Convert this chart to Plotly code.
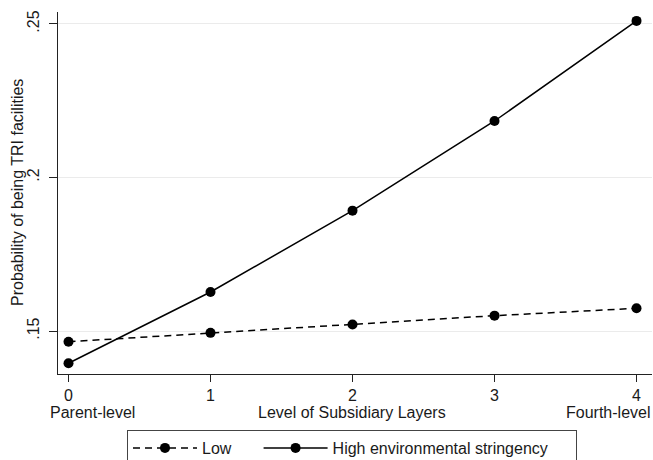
import plotly.graph_objects as go

levels = [0, 1, 2, 3, 4]
low_values = [0.1465, 0.1494, 0.1521, 0.1550, 0.1574]
high_values = [0.1395, 0.1627, 0.1892, 0.2184, 0.2510]
x_tick_vals = [0, 1, 2, 3, 4]
x_tick_text = ["0", "1", "2", "3", "4"]
y_tick_vals = [0.15, 0.2, 0.25]
y_tick_text = [".15", ".2", ".25"]
series_names = ["Low", "High environmental stringency"]

FONT = "Liberation Sans, Arial, sans-serif"
FS = 16
W, H = 653, 460
ML, MR, MT, MB = 58, 1, 12, 86
PW, PH = W - ML - MR, H - MT - MB

def px_x(p):
    return (p - ML) / PW

def px_y(p):
    return (H - MB - p) / PH

NB = "&nbsp;"

fig = go.Figure()
fig.add_trace(go.Scatter(
    x=levels, y=low_values, mode="lines+markers", name=series_names[0] + NB * 5,
    line=dict(color="black", width=1.5, dash="7px,5px"),
    marker=dict(color="black", size=10),
))
fig.add_trace(go.Scatter(
    x=levels, y=high_values, mode="lines+markers", name=series_names[1] + NB * 5,
    line=dict(color="black", width=1.5),
    marker=dict(color="black", size=10),
))

fig.update_layout(
    width=W, height=H,
    margin=dict(l=ML, r=MR, t=MT, b=MB, autoexpand=False),
    paper_bgcolor="white", plot_bgcolor="white",
    font=dict(family=FONT, size=FS, color="#1a1a1a"),
    showlegend=True,
    legend=dict(
        orientation="h", x=px_x(127), xanchor="left", y=px_y(430), yanchor="top",
        bordercolor="#444", borderwidth=1, font=dict(size=FS),
        itemwidth=64, traceorder="normal",
    ),
    xaxis=dict(
        range=[-0.074, 4.109], tickmode="array", tickvals=x_tick_vals, ticktext=x_tick_text,
        showgrid=False, zeroline=False, showline=True, linecolor="#222", linewidth=1,
        ticks="outside", ticklen=7, tickcolor="#222", tickfont=dict(size=FS),
        automargin=False,
    ),
    yaxis=dict(
        range=[0.1360, 0.2539], tickmode="array", tickvals=y_tick_vals, ticktext=y_tick_text,
        showgrid=True, gridcolor="#ebebeb", gridwidth=1, zeroline=False,
        showline=True, linecolor="#222", linewidth=1,
        ticks="outside", ticklen=8, tickcolor="#222", tickangle=-90, tickfont=dict(size=FS),
        ticklabelstandoff=4, automargin=False,
    ),
)

# y-axis title
fig.add_annotation(text="Probability of being TRI facilities", xref="paper", yref="paper",
                   x=px_x(17), y=0.5, textangle=-90, xanchor="center", yanchor="middle",
                   showarrow=False, font=dict(size=FS))
# second line of x labels
fig.add_annotation(text="Parent-level", xref="paper", yref="paper", x=px_x(48), y=px_y(412),
                   xanchor="left", yanchor="middle", showarrow=False, font=dict(size=FS))
fig.add_annotation(text="Level of Subsidiary Layers", xref="paper", yref="paper", x=px_x(352), y=px_y(412),
                   xanchor="center", yanchor="middle", showarrow=False, font=dict(size=FS))
fig.add_annotation(text="Fourth-level", xref="paper", yref="paper", x=px_x(652), y=px_y(412),
                   xanchor="right", yanchor="middle", showarrow=False, font=dict(size=FS))

fig.write_html("out.html", config={"displayModeBar": False},
               post_script="document.body.style.margin='0';document.body.style.overflow='hidden';")
